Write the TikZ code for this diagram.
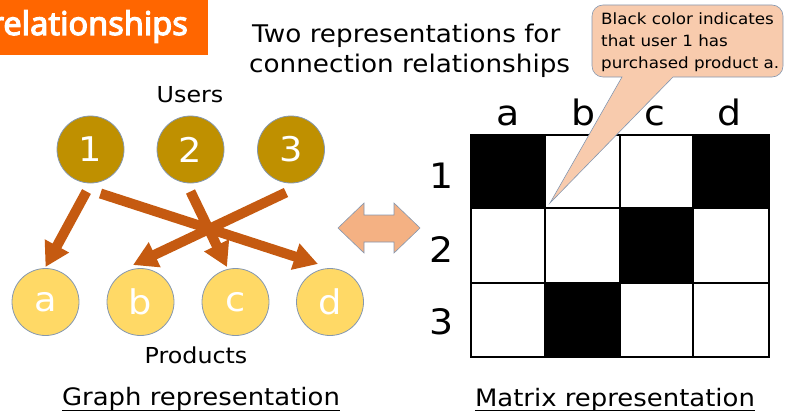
\documentclass[tikz,border=0pt]{standalone}
\usepackage{fontspec}
\setmainfont{DejaVu Sans}[FakeStretch=1.08]
\newfontfamily\bannerfont[FakeBold=3.5]{Noto Sans}
\usetikzlibrary{arrows.meta}

\definecolor{banner}{HTML}{FF6600}
\definecolor{usergold}{HTML}{BF9000}
\definecolor{prodyellow}{HTML}{FFD966}
\definecolor{linkbrown}{HTML}{C55A11}
\definecolor{swapfill}{HTML}{F4B183}
\definecolor{notefill}{HTML}{F8CBAD}
\definecolor{edgegray}{HTML}{8497B0}

\newcommand{\fs}[1]{\fontsize{#1}{#1}\selectfont}

\tikzset{
  user/.style={circle, fill=usergold, draw=edgegray, line width=0.8pt,
    minimum size=67pt, inner sep=0pt, text=white, font=\fs{34}},
  product/.style={circle, fill=prodyellow, draw=edgegray, line width=0.8pt,
    minimum size=67pt, inner sep=0pt, text=white, font=\fs{34}},
  link/.style={draw=linkbrown, line width=10pt,
    -{Triangle[width=26pt, length=24pt]}},
  caption/.style={font=\fs{24}, anchor=base, inner sep=0pt},
  underrule/.style={line width=1.3pt},
  axislabel/.style={font=\fs{35}, anchor=base},
  blackcell/.style={fill=black},
}

\begin{document}
\begin{tikzpicture}[x=1pt, y=-1pt]
  \useasboundingbox (0,0) rectangle (794,412);

  % title banner, text runs off the left edge
  \begin{scope}
    \clip (0,0) rectangle (208,55);
    \fill[banner] (0,0) rectangle (208,55);
    \node[anchor=base east, text=white, font=\bannerfont\fs{32.5}, inner sep=0pt]
      (title) at (188,35) {relationships};
  \end{scope}

  % heading
  \node[anchor=base west, font=\fs{24.3}, inner sep=0pt] (head1) at (252,43) {Two representations for};
  \node[anchor=base west, font=\fs{24.3}, inner sep=0pt] (head2) at (249,72) {connection relationships};

  % graph: users and products
  \node[font=\fs{22}, anchor=base] (users) at (190,102) {Users};
  \node[user] (u1) at (90.5,149.5) {1};
  \node[user] (u2) at (190.5,149.5) {2};
  \node[user] (u3) at (291,149.5) {3};

  \node[product] (pa) at (45.5,302) {a};
  \node[product] (pb) at (140.5,302) {b};
  \node[product] (pc) at (235.5,302) {c};
  \node[product] (pd) at (330,302) {d};
  \node[font=\fs{22}, anchor=base] (products) at (196,363) {Products};

  \draw[link] ([shift={(-4,42)}]u1.center) -- ([shift={(0,-35)}]pa.center);
  \draw[link] ([shift={(10,44)}]u1.center) -- ([shift={(-12,-38)}]pd.center);
  \draw[link] ([shift={(0,42)}]u2.center) -- ([shift={(-8.5,-35)}]pc.center);
  \draw[link] ([shift={(-5,43)}]u3.center) -- ([shift={(-7.5,-37)}]pb.center);

  % two-way block arrow between the representations
  \draw[fill=swapfill, draw=edgegray, line width=0.6pt]
    (338,228) -- (364,203) -- (364,215) -- (394,215) -- (394,203) -- (420,228)
    -- (394,253) -- (394,242) -- (364,242) -- (364,253) -- cycle;

  % matrix: cells
  \fill[blackcell] (471,135) rectangle (545,208);
  \fill[blackcell] (693,135) rectangle (769,208);
  \fill[blackcell] (620,208) rectangle (693,283);
  \fill[blackcell] (545,283) rectangle (620,357);
  \draw[line width=1.5pt] (471,135) rectangle (769,357);
  \foreach \x in {545,620,693} \draw[line width=1.5pt] (\x,135) -- (\x,357);
  \foreach \y in {208,283} \draw[line width=1.5pt] (471,\y) -- (769,\y);

  \node[axislabel] (ca) at (508,125) {a};
  \node[axislabel] (cb) at (583,125) {b};
  \node[axislabel] (cc) at (655,125) {c};
  \node[axislabel] (cd) at (729,125) {d};
  \node[axislabel] (r1) at (442,188) {1};
  \node[axislabel] (r2) at (442,262) {2};
  \node[axislabel] (r3) at (442,334) {3};

  % callout pointing at the corner of cell (1,a)
  \coordinate (tip) at (550,203);
  \draw[fill=notefill, draw=edgegray, line width=0.6pt]
    (673,77) [rounded corners=11pt] -- (783,77) -- (783,5) -- (592,5) -- (592,77)
    [sharp corners] -- (622,77) -- (tip) -- cycle;
  \node[anchor=north west, align=left, font=\fontsize{15.5}{22}\selectfont, inner sep=0pt]
    (note) at (601,13)
    {Black color indicates\\that user 1 has\\purchased product a.};

  % captions, underlined with a rule just under the baseline
  \node[caption] (gcap) at (201,405) {Graph representation};
  \node[caption] (mcap) at (615,406) {Matrix representation};
  \draw[underrule] ([yshift=-5.5pt]gcap.base west) -- ([yshift=-5.5pt]gcap.base east);
  \draw[underrule] ([yshift=-4.5pt]mcap.base west) -- ([yshift=-4.5pt]mcap.base east);
\end{tikzpicture}
\end{document}
